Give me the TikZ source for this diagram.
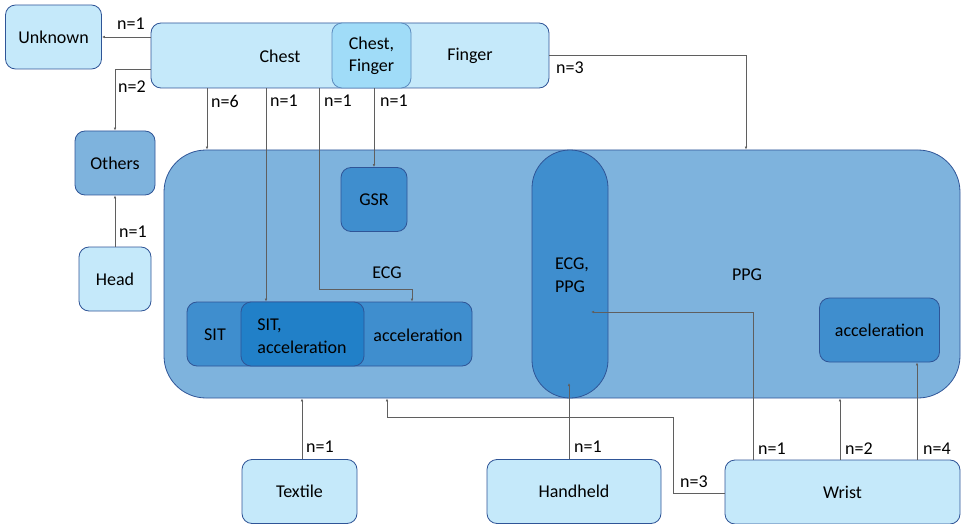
\documentclass[tikz,border=0pt]{standalone}
\usepackage{fontspec}
\setmainfont{Carlito}
\usetikzlibrary{arrows.meta}
\definecolor{lightbox}{HTML}{C5E9FA}
\definecolor{brightbox}{HTML}{A0DCF8}
\definecolor{midbox}{HTML}{7EB3DD}
\definecolor{deepbox}{HTML}{3F8ECE}
\definecolor{darkbox}{HTML}{2180C8}
\definecolor{edge}{HTML}{2F5597}
\definecolor{wire}{HTML}{5F5F5F}
\tikzset{
  box/.style={draw=edge, line width=0.8pt, rounded corners=10pt, inner sep=0pt, align=center},
  lbl/.style={inner sep=0pt, anchor=west},
  txt/.style={inner sep=0pt, align=left},
  conn/.style={draw=wire, line width=0.7pt, -{Latex[length=3pt,width=2.6pt]}},
  plain/.style={draw=wire, line width=0.7pt}
}
\begin{document}
\begin{tikzpicture}[x=1pt,y=-1pt,font=\fontsize{18}{22}\selectfont]
\useasboundingbox (0,0) rectangle (962,524);

% large region with the measured signals
\node[box, fill=midbox, rounded corners=42pt, minimum width=796pt, minimum height=248pt] (big) at (562,274) {};
\node[box, fill=deepbox, minimum width=66pt, minimum height=64pt] (gsr) at (374,199.5) {GSR};
\node[txt] (ecg) at (387,273) {ECG};
\node[txt] (ppg) at (747,275) {PPG};
\node[box, fill=deepbox, minimum width=285pt, minimum height=64pt] (acc1) at (329.5,334) {};
\node[box, fill=darkbox, minimum width=123pt, minimum height=64pt] (sitacc) at (302.5,334) {};
\node[txt] (sit) at (215,335) {SIT};
\node[txt, font=\fontsize{18}{23}\selectfont] (sitacct) at (302,336) {SIT,\\acceleration};
\node[txt] (acct) at (418,335) {acceleration};
\node[box, fill=deepbox, rounded corners=38pt, minimum width=76pt, minimum height=248pt] (pill) at (570,274) {};
\node[txt, font=\fontsize{18}{23}\selectfont] (pillt) at (572,275) {ECG,\\PPG};
\node[box, fill=deepbox, minimum width=120pt, minimum height=64pt] (acc2) at (879.5,330) {acceleration};

% body locations
\node[box, fill=lightbox, minimum width=398pt, minimum height=65pt] (top) at (350,55.5) {};
\node[box, fill=brightbox, draw=edge!60!brightbox, minimum width=79pt, minimum height=65pt] (cf) at (371.5,55.5) {Chest,\\Finger};
\node[txt] (chest) at (280,56) {Chest};
\node[txt] (finger) at (470,56) {Finger};
\node[box, fill=lightbox, minimum width=96pt, minimum height=64pt] (unk) at (53.5,37) {Unknown};
\node[box, fill=midbox, minimum width=80pt, minimum height=64pt] (oth) at (115,163) {Others};
\node[box, fill=lightbox, minimum width=72pt, minimum height=64pt] (head) at (115,279) {Head};
\node[box, fill=lightbox, minimum width=115pt, minimum height=64pt] (tex) at (299.5,491.5) {Textile};
\node[box, fill=lightbox, minimum width=174pt, minimum height=64pt] (hand) at (574,491.5) {Handheld};
\node[box, fill=lightbox, minimum width=235pt, minimum height=64pt] (wrist) at (842.5,492) {Wrist};

\coordinate (handend) at (569,383);
\coordinate (pillend) at (591,312);

% connectors
\draw[conn] (top.west |- unk.east) -- (unk.east);
\draw[conn] (top.west |- 0,69) -| (oth.north);
\draw[conn] (head.north) -- (oth.south);
\draw[conn] (top.south -| 207,0) -- (big.north -| 207,0);
\draw[conn] (top.south -| 266,0) -- (sitacc.north -| 266,0);
\draw[conn] (top.south -| 319,0) |- (412,289) -- (acc1.north -| 412,0);
\draw[conn] (cf.south -| gsr.north) -- (gsr.north);
\draw[conn] (top.east) -| (big.north -| 746,0);
\draw[conn] (tex.north -| 302,0) -- (big.south -| 302,0);
\draw[conn] (hand.north -| handend) -- (handend);
\draw[conn] (wrist.west |- 0,493) -| (673,417) -| (big.south -| 387,0);
\draw[conn] (wrist.north -| 753,0) |- (pillend);
\draw[conn] (wrist.north -| 840,0) -- (big.south -| 840,0);
\draw[conn] (wrist.north -| 917,0) -- (acc2.south -| 917,0);

% counts
\node[lbl] (c1) at (117,24) {n=1};
\node[lbl] (c2) at (118,87) {n=2};
\node[lbl] (c3) at (211,101) {n=6};
\node[lbl] (c4) at (270,101) {n=1};
\node[lbl] (c5) at (324,101) {n=1};
\node[lbl] (c6) at (380,101) {n=1};
\node[lbl] (c7) at (556,68) {n=3};
\node[lbl] (c8) at (119,232) {n=1};
\node[lbl] (c9) at (306,447) {n=1};
\node[lbl] (c10) at (574,447) {n=1};
\node[lbl] (c11) at (680,482) {n=3};
\node[lbl] (c12) at (758,449) {n=1};
\node[lbl] (c13) at (845,449) {n=2};
\node[lbl] (c14) at (923,449) {n=4};
\end{tikzpicture}
\end{document}
